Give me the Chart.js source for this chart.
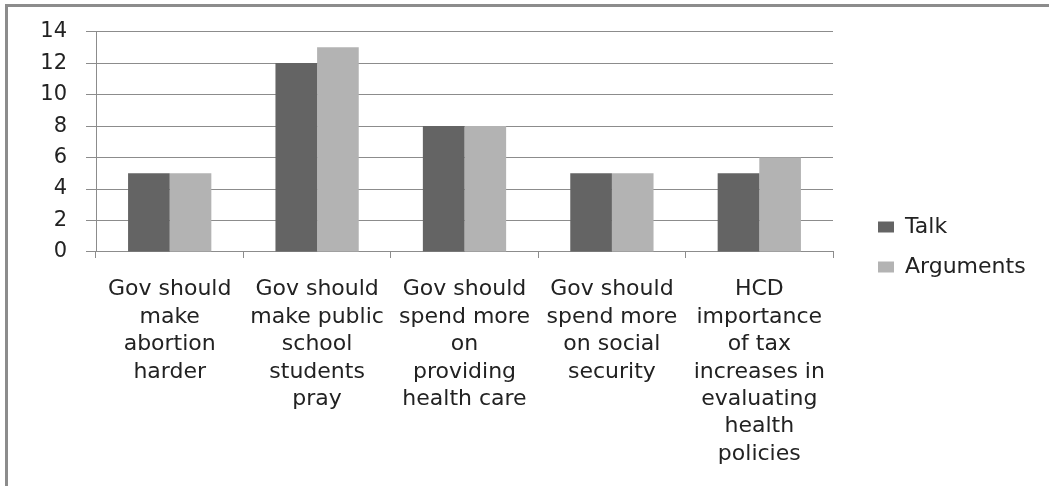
<!DOCTYPE html>
<html lang="en">
    <head>
        <meta charset="UTF-8" />
        <title>Talk vs Arguments</title>
        <script src="https://cdn.jsdelivr.net/npm/chart.js"></script>
        <style>
            html,
            body {
                margin: 0;
                width: 1049px;
                height: 486px;
                overflow: hidden;
                background: #fff;
            }
            .frame {
                position: absolute;
                left: 5px;
                top: 4px;
                width: 1100px;
                height: 600px;
                border: 3px solid #8c8c8c;
            }
            canvas {
                position: absolute;
                left: 0;
                top: 0;
            }
        </style>
    </head>
    <body>
        <div class="frame"></div>
        <canvas id="chart" width="1049" height="486"></canvas>
        <script>
            // data
            const categories = [
                ["Gov should", "make", "abortion", "harder"],
                ["Gov should", "make public", "school", "students", "pray"],
                ["Gov should", "spend more", "on", "providing", "health care"],
                ["Gov should", "spend more", "on social", "security"],
                ["HCD", "importance", "of tax", "increases in", "evaluating", "health", "policies"],
            ];
            const talk = [5, 12, 8, 5, 5];
            const argumentsVals = [5, 13, 8, 5, 6];
            const yTicks = [0, 2, 4, 6, 8, 10, 12, 14];

            const labelFont = { family: "DejaVu Sans", size: 22 };
            const tickFont = { family: "DejaVu Sans", size: 21 };
            const textColor = "#222";
            const lineColor = "#8c8c8c";

            new Chart(document.getElementById("chart"), {
                type: "bar",
                data: {
                    labels: categories,
                    datasets: [
                        {
                            label: "Talk",
                            data: talk,
                            backgroundColor: "#646464",
                            yAxisID: "y",
                        },
                        {
                            label: "Arguments",
                            data: argumentsVals,
                            backgroundColor: "#b3b3b3",
                            yAxisID: "y",
                        },
                    ],
                },
                options: {
                    responsive: false,
                    animation: false,
                    categoryPercentage: 0.565,
                    barPercentage: 1.0,
                    layout: {
                        padding: { left: 10, top: 30, right: 19, bottom: 22 },
                    },
                    plugins: {
                        tooltip: { enabled: false },
                        legend: {
                            position: "right",
                            labels: {
                                font: labelFont,
                                color: textColor,
                                boxWidth: 16,
                                boxHeight: 11,
                                padding: 18,
                            },
                        },
                    },
                    scales: {
                        x: {
                            grid: {
                                display: true,
                                drawOnChartArea: false,
                                drawTicks: true,
                                tickLength: 6,
                                color: lineColor,
                            },
                            border: { display: true, color: lineColor },
                            ticks: {
                                font: { ...labelFont, lineHeight: 1.245 },
                                color: textColor,
                                maxRotation: 0,
                                autoSkip: false,
                                padding: 18,
                            },
                            afterFit(scale) {
                                scale.height = 212;
                            },
                        },
                        y: {
                            min: 0,
                            max: 14,
                            afterBuildTicks(scale) {
                                scale.ticks = yTicks.map((v) => ({ value: v }));
                            },
                            grid: {
                                color: lineColor,
                                tickLength: 10,
                            },
                            border: { display: true, color: lineColor },
                            ticks: {
                                font: tickFont,
                                color: textColor,
                                padding: 19,
                            },
                            afterFit(scale) {
                                scale.width = 86;
                            },
                        },
                        // empty axis, only keeps a gap between plot and legend
                        gap: {
                            type: "linear",
                            position: "right",
                            display: true,
                            grid: { display: false },
                            border: { display: false },
                            ticks: { display: false },
                            afterFit(scale) {
                                scale.width = 27;
                            },
                        },
                    },
                },
            });
        </script>
    </body>
</html>
